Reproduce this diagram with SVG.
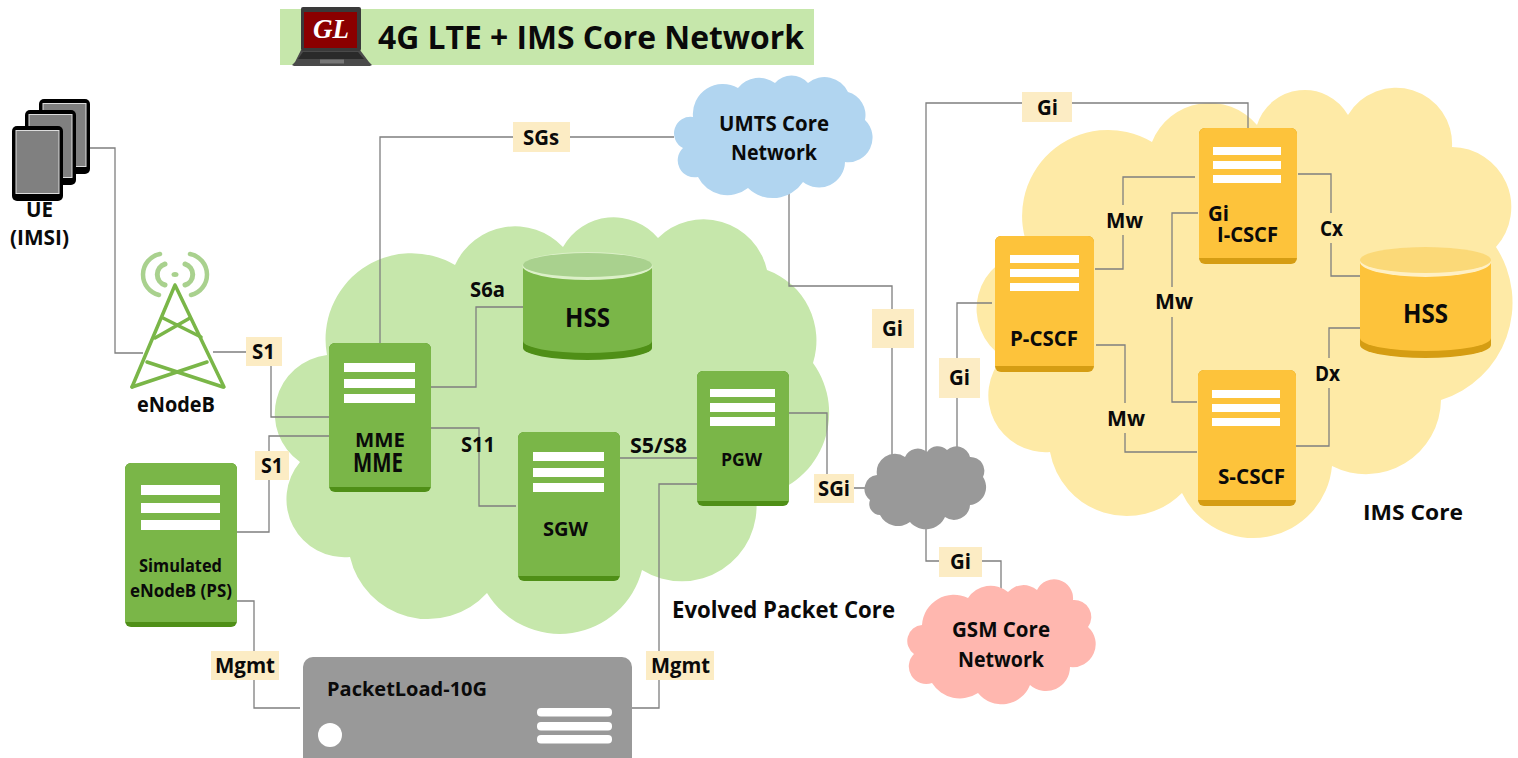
<svg xmlns="http://www.w3.org/2000/svg" width="1518" height="758" viewBox="0 0 1518 758">
<style>
text{font-family:"Open Sans","Noto Sans","Liberation Sans",sans-serif;font-weight:700;fill:#0a0a0a;font-size:21px}
.conn{fill:none;stroke:#7f7f7f;stroke-width:1.3}
.lbl{fill:#fcecc4}
.bar{fill:#fff}
.g{fill:#7ab648}.gd{fill:#4f8f17}
.y{fill:#fdc33b}.yd{fill:#d59d13}
</style>
<defs>
<g id="tablet"><rect width="51" height="75" rx="5" fill="#000"/><rect x="4" y="4.500" width="43" height="63" fill="#808080" stroke="#ddd" stroke-width="1"/></g>
</defs>
<rect width="1518" height="758" fill="#fff"/>

<g id="title">
<rect x="280" y="9" width="534" height="56" fill="#c6e7ab"/>
<text x="378" y="49" style="font-size:33px" textLength="426" lengthAdjust="spacingAndGlyphs">4G LTE + IMS Core Network</text>
<path d="M301 50 L360 50 L369 62 L372 65 L370 66 L294 66 L292 65 L295 62Z" fill="#4a4a4a"/>
<path d="M303 52 L358 52 L364 59 L298 59Z" fill="#2a2a2a"/>
<rect x="320" y="59.500" width="24" height="4" fill="#777"/>
<rect x="301" y="7" width="60" height="44" rx="2" fill="#3a3a3a"/>
<rect x="304" y="12" width="53" height="36" fill="#8b0000"/>
<text x="313" y="38" style="font-family:'Liberation Serif',serif;font-style:italic;font-size:28px;fill:#fff" textLength="36" lengthAdjust="spacingAndGlyphs">GL</text>
</g>

<g id="epc-cloud">
<path fill="#c6e7ab" d="M300 462 A59 59 0 0 1 327 355 A86 86 0 0 1 455 265 A66 66 0 0 1 563 247 A58 58 0 0 1 658 238 A65 65 0 0 1 767 270 A75 75 0 0 1 813 363 A85 85 0 0 1 756 497 A75 75 0 0 1 642 570 A85 85 0 0 1 487 593 A80 80 0 0 1 350 557 A58 58 0 0 1 300 462Z"/>
</g>
<g id="ims-cloud">
<path fill="#feeaa6" d="M1003 357 A57 57 0 0 1 1030 252 A86 86 0 0 1 1152 142 A62 62 0 0 1 1257 125 A50 50 0 0 1 1348 115 A56 56 0 0 1 1452 147 A60 60 0 0 1 1496 247 A102 102 0 0 1 1441 400 A75 75 0 0 1 1332 466 A79 79 0 0 1 1182 493 A78 78 0 0 1 1050 452 A57 57 0 0 1 1003 357Z"/>
</g>

<g id="connectors" class="conn">
<path d="M90 148H115V353H143"/>
<path d="M213 352H246M271 366V417H329"/>
<path d="M380 343V137H513M570 137H674"/>
<path d="M237 532H269V480M269 451V436H329"/>
<path d="M431 387H476V307H523"/>
<path d="M427 428H479V506H516"/>
<path d="M620 458H697"/>
<path d="M789 413H827V474M854 488H867"/>
<path d="M789 192V286H892V309M892 348V457"/>
<path d="M926 453V103H1022M1072 103H1248V128"/>
<path d="M957 450V398M957 358V303H992"/>
<path d="M926 528V561H939M982 561H1001V590"/>
<path d="M236 601H254V651M254 680V708H300"/>
<path d="M632 708H659V680M659 651V484H697"/>
<path d="M1095 269H1123V235M1123 205V177H1195"/>
<path d="M1198 213H1172V287M1172 317V402H1197"/>
<path d="M1096 345H1125V403M1125 433V452H1197"/>
<path d="M1298 174H1331V213M1331 243V276H1363"/>
<path d="M1295 446H1329V388M1329 358V328H1363"/>
</g>

<g id="ue">
<use href="#tablet" x="39" y="99"/><use href="#tablet" x="25" y="110"/><use href="#tablet" x="12" y="126"/>
<text x="26" y="217" textLength="27" lengthAdjust="spacingAndGlyphs">UE</text>
<text x="10" y="245" textLength="59" lengthAdjust="spacingAndGlyphs">(IMSI)</text>
</g>

<g id="enodeb">
<g fill="none" stroke="#a9d18e" stroke-linecap="round">
<path d="M160 254 A21 21 0 0 0 159 295M190 254 A21 21 0 0 1 191 295" stroke-width="4.500"/>
<path d="M165 264 A11 11 0 0 0 165 285M185 264 A11 11 0 0 1 185 285" stroke-width="5"/>
</g>
<ellipse cx="175" cy="274.500" rx="3.500" ry="2.500" fill="#a9d18e"/>
<g fill="none" stroke="#7ab648" stroke-width="3.500" stroke-linecap="round">
<path d="M175 285L132 387M175 285L224 387"/>
<path d="M163 318L201 337M190 318L155 338M147 362L223 387M207 362L132 387"/>
</g>
<text x="137" y="412" textLength="78" lengthAdjust="spacingAndGlyphs">eNodeB</text>
</g>

<g id="mme">
<rect class="gd" x="329" y="343" width="102" height="149" rx="6"/>
<path class="g" d="M335 343H425A6 6 0 0 1 431 349V487H329V349A6 6 0 0 1 335 343Z"/>
<rect class="bar" x="344" y="363" width="71" height="9"/><rect class="bar" x="344" y="379" width="71" height="9"/><rect class="bar" x="344" y="394" width="71" height="9"/>
<text x="355" y="447" textLength="50" lengthAdjust="spacingAndGlyphs" style="font-size:19px">MME</text>
<text x="353" y="472" textLength="50" lengthAdjust="spacingAndGlyphs" style="font-size:27px">MME</text>
</g>

<g id="sim-enodeb">
<rect class="gd" x="125" y="463" width="112" height="164" rx="6"/>
<path class="g" d="M131 463H231A6 6 0 0 1 237 469V622H125V469A6 6 0 0 1 131 463Z"/>
<rect class="bar" x="141" y="485" width="79" height="10"/><rect class="bar" x="141" y="503" width="79" height="10"/><rect class="bar" x="141" y="520" width="79" height="10"/>
<text x="139" y="572" textLength="83" lengthAdjust="spacingAndGlyphs" style="font-size:18px">Simulated</text>
<text x="130" y="597" textLength="102" lengthAdjust="spacingAndGlyphs" style="font-size:18px">eNodeB (PS)</text>
</g>

<g id="sgw">
<rect class="gd" x="518" y="432" width="102" height="149" rx="6"/>
<path class="g" d="M524 432H614A6 6 0 0 1 620 438V576H518V438A6 6 0 0 1 524 432Z"/>
<rect class="bar" x="533" y="452" width="71" height="9"/><rect class="bar" x="533" y="468" width="71" height="9"/><rect class="bar" x="533" y="483" width="71" height="9"/>
<text x="543" y="536" textLength="45" lengthAdjust="spacingAndGlyphs" style="font-size:19.500px">SGW</text>
</g>

<g id="pgw">
<rect class="gd" x="697" y="371" width="92" height="135" rx="6"/>
<path class="g" d="M703 371H783A6 6 0 0 1 789 377V501H697V377A6 6 0 0 1 703 371Z"/>
<rect class="bar" x="710" y="389" width="65" height="8"/><rect class="bar" x="710" y="403" width="65" height="9"/><rect class="bar" x="710" y="417" width="65" height="9"/>
<text x="721" y="466" textLength="41" lengthAdjust="spacingAndGlyphs" style="font-size:17px">PGW</text>
</g>

<g id="hss-epc">
<path class="gd" d="M523 265V348A64.500 12 0 0 0 652 348V265Z"/>
<path class="g" d="M523 265V341A64.500 12 0 0 0 652 341V265Z"/>
<ellipse cx="587.500" cy="266" rx="65" ry="14" fill="#dcf0c8"/>
<ellipse cx="587.500" cy="265" rx="64.500" ry="12" fill="#a9d18e"/>
<text x="565" y="327" textLength="45" lengthAdjust="spacingAndGlyphs" style="font-size:26px">HSS</text>
</g>

<g id="umts-cloud">
<path fill="#b1d5f0" d="M683 148 A16.500 16.500 0 0 1 693 117 A30 30 0 0 1 738 88 A27 27 0 0 1 775 83 A22 22 0 0 1 808 83 A26 26 0 0 1 848 92 A24 24 0 0 1 865 120 A24.500 24.500 0 0 1 845 162 A26 26 0 0 1 803 182 A36 36 0 0 1 748 188 A33 33 0 0 1 698 177 A17 17 0 0 1 683 148Z"/>
<text x="719" y="131" textLength="110" lengthAdjust="spacingAndGlyphs">UMTS Core</text>
<text x="731" y="160" textLength="86" lengthAdjust="spacingAndGlyphs">Network</text>
</g>

<g id="internet-cloud">
<path fill="#999" d="M877 475 A18 18 0 0 1 905 457 A14 14 0 0 1 927 452 A13 13 0 0 1 947 450 A14 14 0 0 1 970 457 A14 14 0 0 1 983 477 A18 18 0 0 1 970 505 A16 16 0 0 1 945 517 A21 21 0 0 1 910 522 A20 20 0 0 1 880 515 A11 11 0 0 1 870 500 A14 14 0 0 1 877 475Z"/>
</g>

<g id="gsm-cloud">
<path fill="#ffb7af" d="M922 625 A32 32 0 0 1 968 598 A27 27 0 0 1 1008 592 A21 21 0 0 1 1037 590 A19 19 0 0 1 1073 600 A17 17 0 0 1 1088 627 A23 23 0 0 1 1070 667 A24 24 0 0 1 1030 685 A30.500 30.500 0 0 1 978 693 A33 33 0 0 1 932 683 A17.500 17.500 0 0 1 914 654 A16 16 0 0 1 922 625Z"/>
<text x="952" y="637" textLength="98" lengthAdjust="spacingAndGlyphs">GSM Core</text>
<text x="958" y="667" textLength="86" lengthAdjust="spacingAndGlyphs">Network</text>
</g>

<g id="p-cscf">
<rect class="yd" x="995" y="236" width="99" height="136" rx="6"/>
<path class="y" d="M1001 236H1088A6 6 0 0 1 1094 242V366H995V242A6 6 0 0 1 1001 236Z"/>
<rect class="bar" x="1010" y="255" width="69" height="8"/><rect class="bar" x="1010" y="269" width="69" height="8"/><rect class="bar" x="1010" y="283" width="69" height="8"/>
<text x="1010" y="346" textLength="68" lengthAdjust="spacingAndGlyphs">P-CSCF</text>
</g>
<g id="i-cscf">
<rect class="yd" x="1199" y="128" width="98" height="136" rx="6"/>
<path class="y" d="M1205 128H1291A6 6 0 0 1 1297 134V258H1199V134A6 6 0 0 1 1205 128Z"/>
<rect class="bar" x="1213" y="147" width="68" height="8"/><rect class="bar" x="1213" y="161" width="68" height="8"/><rect class="bar" x="1213" y="175" width="68" height="8"/>
<text x="1208" y="221" textLength="21" lengthAdjust="spacingAndGlyphs">Gi</text>
<text x="1217" y="242" textLength="61" lengthAdjust="spacingAndGlyphs">I-CSCF</text>
</g>
<g id="s-cscf">
<rect class="yd" x="1198" y="370" width="98" height="136" rx="6"/>
<path class="y" d="M1204 370H1290A6 6 0 0 1 1296 376V500H1198V376A6 6 0 0 1 1204 370Z"/>
<rect class="bar" x="1212" y="390" width="68" height="8"/><rect class="bar" x="1212" y="404" width="68" height="8"/><rect class="bar" x="1212" y="418" width="68" height="8"/>
<text x="1218" y="484" textLength="67" lengthAdjust="spacingAndGlyphs">S-CSCF</text>
</g>
<g id="hss-ims">
<path class="yd" d="M1360 260V345A65.500 13 0 0 0 1491 345V260Z"/>
<path class="y" d="M1360 260V338A65.500 13 0 0 0 1491 338V260Z"/>
<ellipse cx="1425.500" cy="262" rx="65.500" ry="15" fill="#fff0c4"/>
<ellipse cx="1425.500" cy="260" rx="65.500" ry="13" fill="#fbd978"/>
<text x="1403" y="323" textLength="45" lengthAdjust="spacingAndGlyphs" style="font-size:26px">HSS</text>
</g>

<g id="packetload">
<rect x="303" y="657" width="329" height="120" rx="10" fill="#999"/>
<circle cx="330" cy="735" r="12" fill="#fff"/>
<rect class="bar" x="537" y="708" width="75" height="8.500" rx="4"/><rect class="bar" x="537" y="722" width="75" height="8.500" rx="4"/><rect class="bar" x="537" y="735" width="75" height="8.500" rx="4"/>
<text x="327" y="696" textLength="160" lengthAdjust="spacingAndGlyphs" style="font-size:20px">PacketLoad-10G</text>
</g>

<g id="labels">
<rect class="lbl" x="246" y="337" width="36" height="29"/><text x="252" y="359" textLength="23" lengthAdjust="spacingAndGlyphs">S1</text>
<rect class="lbl" x="255" y="451" width="34" height="29"/><text x="261" y="473" textLength="22" lengthAdjust="spacingAndGlyphs">S1</text>
<rect class="lbl" x="513" y="122" width="57" height="30"/><text x="523" y="145" textLength="36" lengthAdjust="spacingAndGlyphs">SGs</text>
<rect class="lbl" x="872" y="309" width="42" height="39"/><text x="882" y="336" textLength="21" lengthAdjust="spacingAndGlyphs">Gi</text>
<rect class="lbl" x="939" y="358" width="41" height="40"/><text x="949" y="385" textLength="21" lengthAdjust="spacingAndGlyphs">Gi</text>
<rect class="lbl" x="1022" y="92" width="50" height="30"/><text x="1037" y="115" textLength="21" lengthAdjust="spacingAndGlyphs">Gi</text>
<rect class="lbl" x="814" y="474" width="40" height="29"/><text x="818" y="496" textLength="32" lengthAdjust="spacingAndGlyphs">SGi</text>
<rect class="lbl" x="939" y="547" width="43" height="30"/><text x="950" y="569" textLength="21" lengthAdjust="spacingAndGlyphs">Gi</text>
<rect class="lbl" x="211" y="651" width="68" height="29"/><text x="215" y="673" textLength="60" lengthAdjust="spacingAndGlyphs">Mgmt</text>
<rect class="lbl" x="646" y="651" width="68" height="29"/><text x="651" y="673" textLength="59" lengthAdjust="spacingAndGlyphs">Mgmt</text>
<text x="470" y="297" textLength="35" lengthAdjust="spacingAndGlyphs">S6a</text>
<text x="461" y="452" textLength="34" lengthAdjust="spacingAndGlyphs">S11</text>
<text x="630" y="453" textLength="57" lengthAdjust="spacingAndGlyphs">S5/S8</text>
<text x="1106" y="228" textLength="37" lengthAdjust="spacingAndGlyphs">Mw</text>
<text x="1155" y="309" textLength="38" lengthAdjust="spacingAndGlyphs">Mw</text>
<text x="1107" y="426" textLength="38" lengthAdjust="spacingAndGlyphs">Mw</text>
<text x="1320" y="236" textLength="23" lengthAdjust="spacingAndGlyphs">Cx</text>
<text x="1315" y="381" textLength="25" lengthAdjust="spacingAndGlyphs">Dx</text>
<text x="1363" y="520" textLength="100" lengthAdjust="spacingAndGlyphs" style="font-size:22px">IMS Core</text>
<text x="672" y="618" textLength="223" lengthAdjust="spacingAndGlyphs" style="font-size:23px">Evolved Packet Core</text>
</g>
</svg>
